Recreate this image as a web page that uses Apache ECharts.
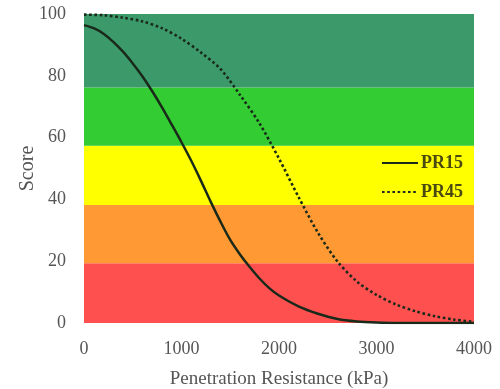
<!DOCTYPE html>
<html><head><meta charset="utf-8">
<script src="https://cdn.jsdelivr.net/npm/echarts@6/dist/echarts.min.js"></script>
<style>html,body{margin:0;padding:0;background:#fff}#c{width:500px;height:389px}</style>
</head><body><div id="c"></div>
<script>
const resistance = [0,100,200,300,400,500,600,700,800,900,1000,1100,1200,1300,1400,1500,1600,1700,1800,1900,2000,2200,2400,2600,2800,3000,3200,3400,3600,3800,4000];
const pr15 = [96.4,95.4,93.6,91,87.8,84,79.8,75,69.8,64.2,58.5,52.5,46,39.2,32.8,26.9,22.2,18.1,14.4,11.3,8.9,5.4,3,1.3,0.5,0.15,0,0,0,0,0];
const pr45x = [0,200,400,600,800,1000,1200,1400,1600,1800,2000,2200,2400,2600,2800,3000,3200,3400,3600,3800,4000];
const pr45 = [99.8,99.6,98.8,97.6,95.4,92,87.5,82.2,73.8,64.6,53.2,40.8,29.2,19.9,13.4,9.1,6,3.8,2.2,1.1,0.4];
const bandEdges = [0,19.3,38.2,57.4,76.2,100];
const bandColors = ['#FF5050','#FF9933','#FFFF00','#33CC33','#3C9A6A'];
const seriesNames = ['PR15','PR45'];

const font = 'Liberation Serif';
const bands = bandColors.map((c,i)=>[{yAxis:bandEdges[i],itemStyle:{color:c,opacity:1}},{yAxis:bandEdges[i+1]}]);
const chart = echarts.init(document.getElementById('c'));
chart.setOption({
  animation:false,
  grid:{left:84,right:26,top:14,bottom:66,containLabel:false,outerBoundsMode:'none'},
  legend:{
    orient:'vertical', right:32, top:149, itemGap:11, itemWidth:36, itemHeight:18,
    itemStyle:{opacity:0},
    textStyle:{fontFamily:font,fontSize:18,fontWeight:'bold',color:'#4a4a10',padding:[0,0,0,-2]},
    data:seriesNames
  },
  xAxis:{type:'value',min:0,max:4000,interval:1000,
    axisLine:{show:false},axisTick:{show:false},splitLine:{show:false},
    axisLabel:{fontFamily:font,fontSize:18,color:'#555',margin:17,formatter:v=>String(v)},
    name:'Penetration Resistance (kPa)',nameLocation:'middle',nameGap:47,
    nameTextStyle:{fontFamily:font,fontSize:19,color:'#555'}},
  yAxis:{type:'value',min:0,max:100,interval:20,
    axisLine:{show:false},axisTick:{show:false},splitLine:{show:false},
    axisLabel:{fontFamily:font,fontSize:18,color:'#555',margin:18},
    name:'Score',nameLocation:'middle',nameGap:46,nameMoveOverlap:false,
    nameTextStyle:{fontFamily:font,fontSize:20,color:'#555'}},
  series:[
    {name:seriesNames[0],type:'line',symbol:'none',smooth:0.3,
     data:resistance.map((x,i)=>[x,pr15[i]]),
     lineStyle:{color:'#1a2a1a',width:2.5},itemStyle:{color:'#1a2a1a'},z:3,
     markArea:{silent:true,data:bands,z:1}},
    {name:seriesNames[1],type:'line',symbol:'none',smooth:0.3,
     data:pr45x.map((x,i)=>[x,pr45[i]]),
     lineStyle:{color:'#1a2a1a',width:2.6,type:[2.6,2.6]},itemStyle:{color:'#1a2a1a'},z:3}
  ]
});
</script></body></html>
